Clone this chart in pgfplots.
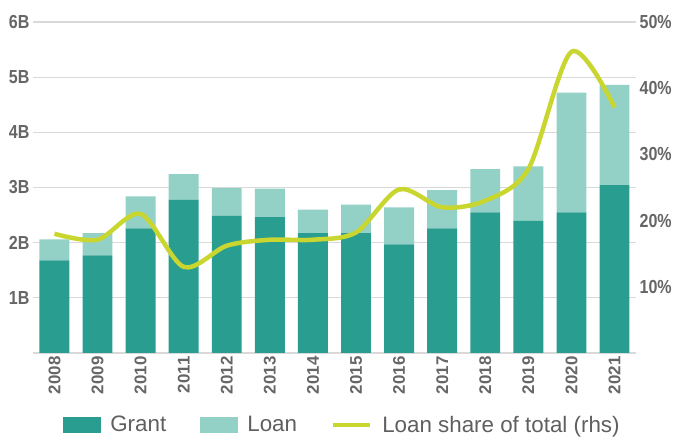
\documentclass[border=0pt]{standalone}
\usepackage{pgfplots}
\pgfplotsset{compat=1.18}
\usepackage{fontspec}
\setmainfont{Liberation Sans}
\newfontfamily\cond[FakeStretch=0.85]{Liberation Sans}
\definecolor{grant}{HTML}{2A9D91}
\definecolor{loan}{HTML}{93D1C7}
\definecolor{share}{HTML}{C9D62F}
\definecolor{gridc}{HTML}{D9D9D9}
\definecolor{labc}{HTML}{666666}
\definecolor{legc}{HTML}{5F5F5F}
\begin{document}
\begin{tikzpicture}
\pgfplotsset{
  base/.style={scale only axis, width=605bp, height=332bp, at={(0,0)}, anchor=south west,
    xmin=-0.5, xmax=13.5, axis line style={draw=none}, major tick length=0pt,
    tick style={draw=none}},
}
\begin{axis}[base, ybar stacked, bar width=30bp,
  ymin=0, ymax=6, ytick={0,...,6}, yticklabels={,1B,2B,3B,4B,5B,6B},
  ymajorgrids, grid style={gridc, line width=1.2bp},
  xtick={0,...,13},
  xticklabels={2008,2009,2010,2011,2012,2013,2014,2015,2016,2017,2018,2019,2020,2021},
  xticklabel style={rotate=90, anchor=east, font=\bfseries\fontsize{17}{17}\selectfont, text=labc},
  yticklabel style={font=\cond\bfseries\fontsize{19}{19}\selectfont, text=labc},
  every axis plot/.append style={draw=none}]
\addplot[fill=grant] coordinates {(0,1.68) (1,1.77) (2,2.26) (3,2.78) (4,2.49) (5,2.46) (6,2.17) (7,2.17) (8,1.97) (9,2.26) (10,2.55) (11,2.40) (12,2.55) (13,3.04)};
\addplot[fill=loan] coordinates {(0,0.38) (1,0.40) (2,0.58) (3,0.46) (4,0.50) (5,0.52) (6,0.43) (7,0.52) (8,0.67) (9,0.69) (10,0.78) (11,0.98) (12,2.17) (13,1.82)};
\end{axis}
\begin{axis}[base, ymin=0, ymax=50, axis y line*=right, axis x line=none,
  ytick={0,10,...,50}, yticklabels={,10\%,20\%,30\%,40\%,50\%},
  yticklabel style={font=\cond\bfseries\fontsize{19}{19}\selectfont, text=labc},
  legend columns=3,
  legend style={draw=none, fill=none, at={(0.513,-0.217)}, anchor=center,
    font=\fontsize{22.5}{26}\selectfont, text=legc,
    /tikz/every even column/.append style={column sep=32bp}}]
\addlegendimage{legend image code/.code={\fill[grant] (0bp,-7.5bp) rectangle (37bp,7.5bp); \path (45bp,0bp);}}
\addlegendentry{Grant}
\addlegendimage{legend image code/.code={\fill[loan] (0bp,-7.5bp) rectangle (37bp,7.5bp); \path (45bp,0bp);}}
\addlegendentry{Loan}
\addplot[share, line width=4.5bp, smooth, mark=none,
  legend image code/.code={\draw[share, line width=4.5bp] (0bp,0bp) -- (37bp,0bp); \path (45bp,0bp);}]
  coordinates {(0,18.0) (1,17.1) (2,21.0) (3,13.0) (4,16.2) (5,17.1) (6,17.1) (7,18.2) (8,24.7) (9,22.0) (10,23.0) (11,27.8) (12,45.5) (13,37.1)};
\addlegendentry{Loan share of total (rhs)}
\end{axis}
\path (-33bp,-85bp) rectangle (642bp,354bp);
\end{tikzpicture}
\end{document}
